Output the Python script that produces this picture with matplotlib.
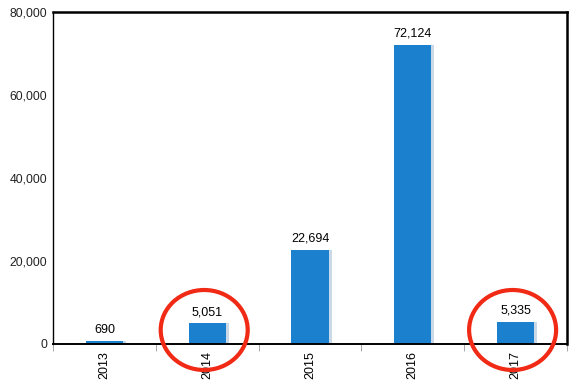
import matplotlib
matplotlib.use("Agg")
import numpy as np
import matplotlib.pyplot as plt
from matplotlib.patches import Ellipse
from matplotlib.ticker import FuncFormatter

years = ["2013", "2014", "2015", "2016", "2017"]
values = [690, 5051, 22694, 72124, 5335]
circled = ["2014", "2017"]

plt.rcParams['font.family'] = ['Liberation Sans', 'DejaVu Sans']

fig = plt.figure(figsize=(5.77, 3.85), dpi=100)
ax = fig.add_axes([53/577, 41/385, 514/577, 332/385])

x = np.arange(len(years))
w = 0.36
# light shadow to the right of each bar
ax.bar(x + 0.03, values, width=w, color="#c9d9e8", zorder=1)
ax.bar(x, values, width=w, color="#1b80ce", zorder=2)
for xi, v in zip(x, values):
    ax.text(xi, v + 1200, f"{v:,}", ha="center", va="bottom", fontsize=9)

ax.set_xlim(-0.5, len(years) - 0.5)
ax.set_ylim(0, 80000)
ax.set_yticks(np.arange(0, 80001, 20000))
ax.yaxis.set_major_formatter(FuncFormatter(lambda v, p: f"{int(v):,}"))
ax.tick_params(axis="y", length=0, labelsize=8.8, pad=4, labelcolor="#222222")
ax.set_xticks(x)
ax.set_xticklabels(years, rotation=90, fontsize=9)
ax.tick_params(axis="x", length=0, pad=5)
ax.set_xticks(np.arange(-0.5, len(years)), minor=True)
ax.tick_params(axis="x", which="minor", length=5, color="#999999")

for s in ax.spines.values():
    s.set_color("black")
    s.set_linewidth(1.8)
ax.spines["left"].set_linewidth(1.0)
ax.spines["bottom"].set_linewidth(1.4)

# red circles
ax_pos = ax.get_position()
for yr in circled:
    i = years.index(yr)
    cx = ax_pos.x0 + (i + 0.5) / len(years) * ax_pos.width - 3/577
    cy = (385 - 330) / 385
    e = Ellipse((cx, cy), 87/577, 80/385, transform=fig.transFigure,
                fill=False, edgecolor="#f02a14", linewidth=3.0, clip_on=False, zorder=5)
    fig.patches.append(e)

fig.savefig("out.png", dpi=100)
